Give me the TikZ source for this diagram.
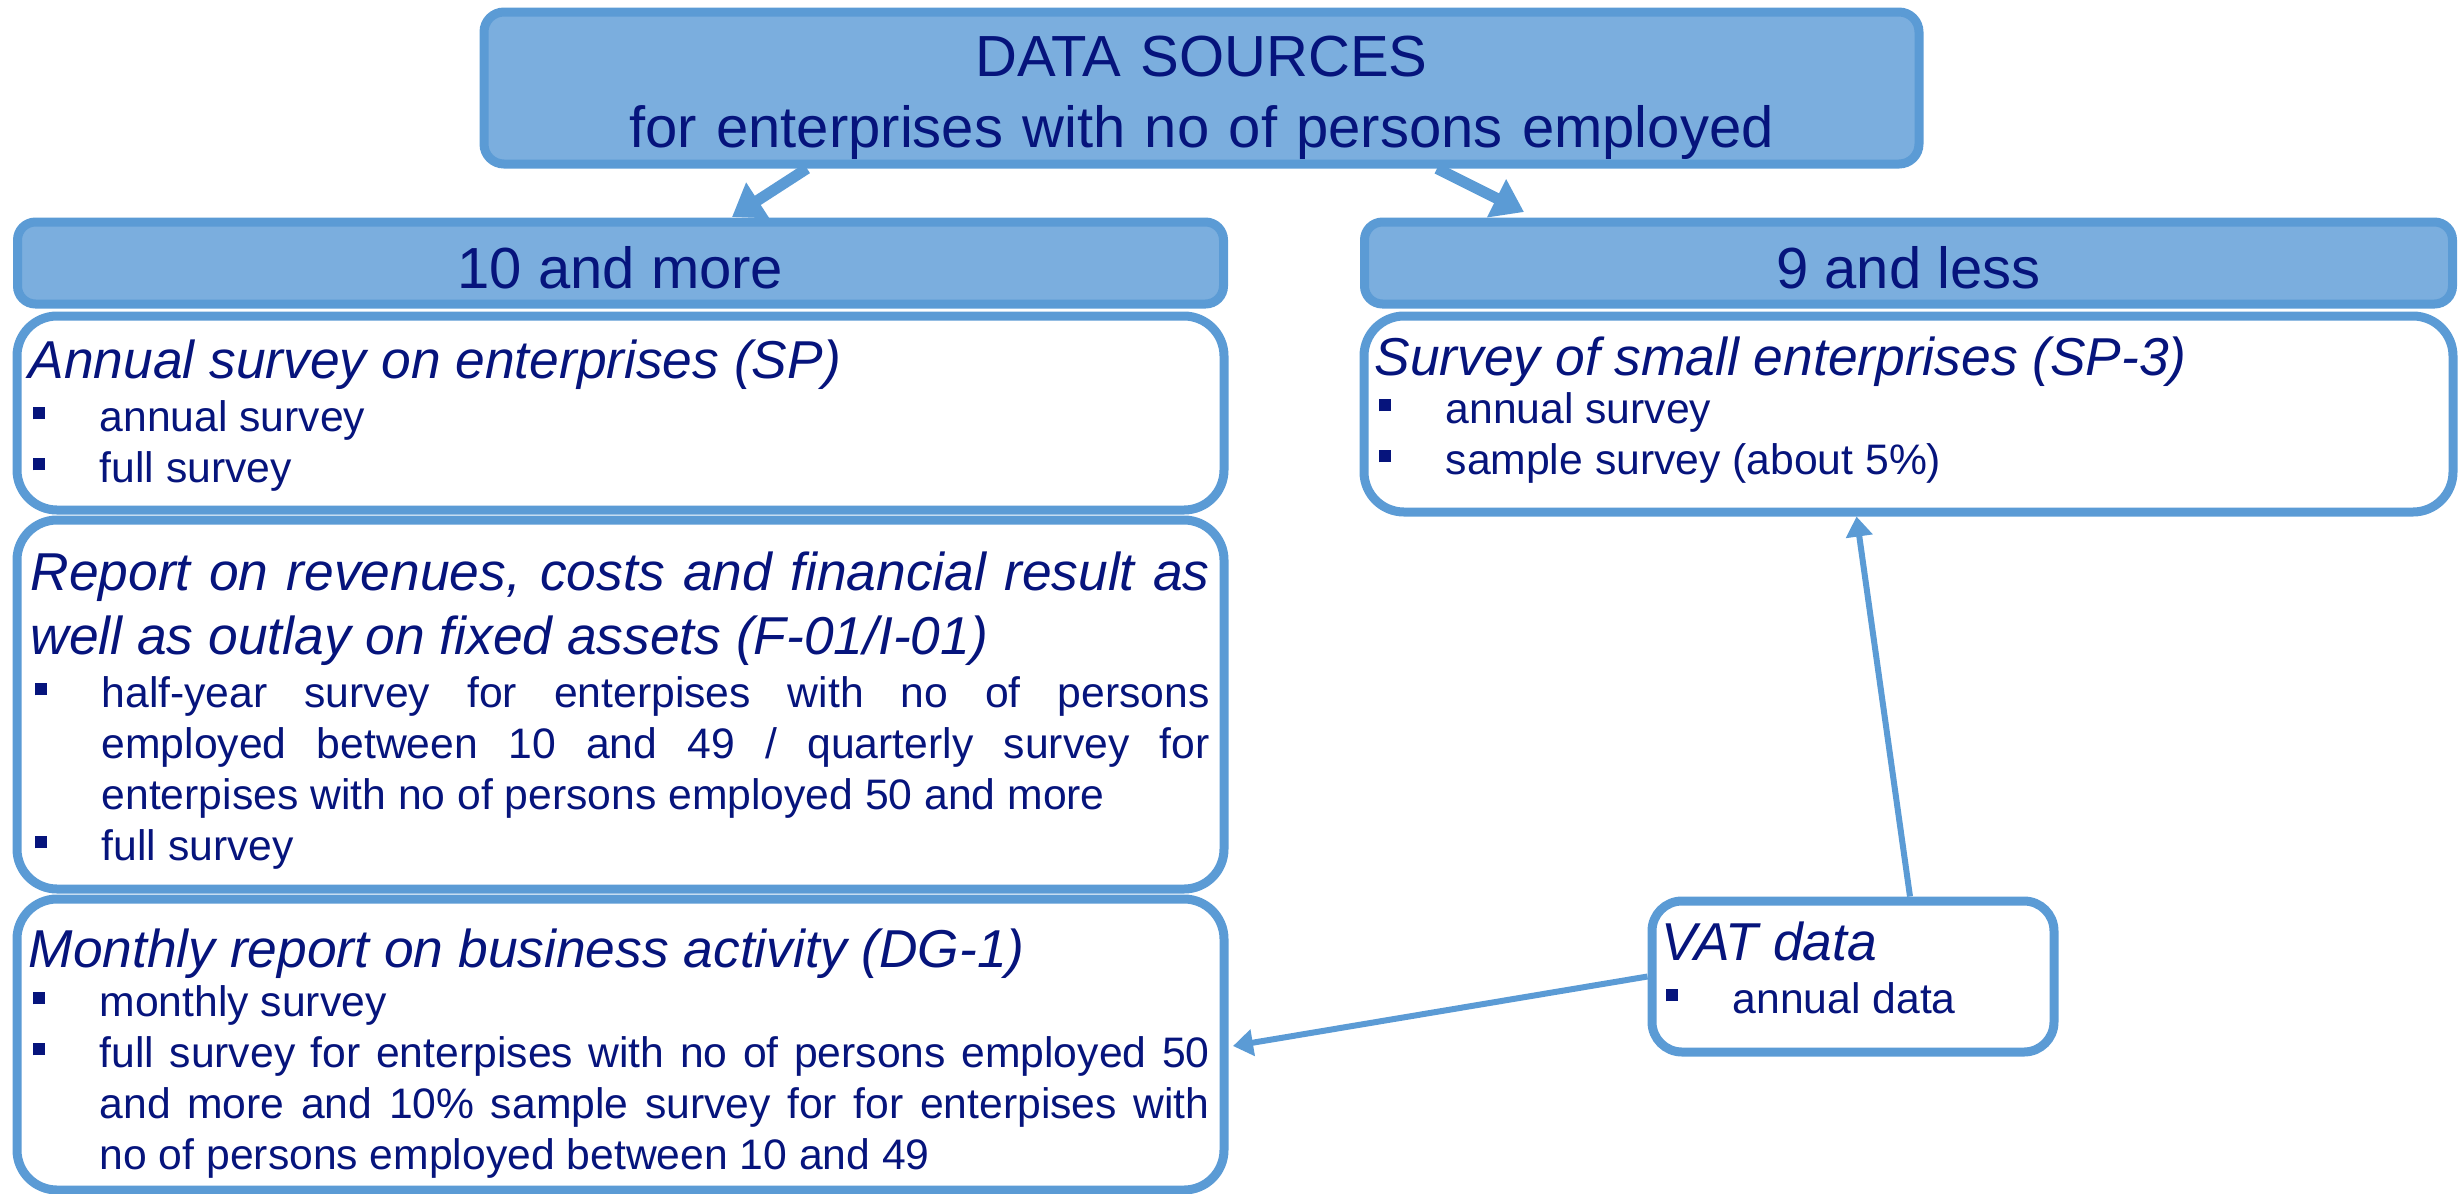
\documentclass[tikz,border=0pt]{standalone}
\usepackage{fontspec}
\setmainfont{Liberation Sans}
\usetikzlibrary{arrows.meta,calc,fit}
\definecolor{hdrfill}{HTML}{7BAEDE}
\definecolor{edgeblue}{HTML}{5B9BD5}
\definecolor{navy}{HTML}{06147C}
\newlength\bind
\setlength\bind{21.3pt}
\newcommand\bitem[1]{\par\hangindent=\bind\hangafter=1\noindent\makebox[\bind][l]{\hspace{1.2pt}\rule[3.5pt]{3.6pt}{3.6pt}}#1}
\newcommand\hfont{\fontsize{16pt}{19.2pt}\selectfont\itshape}
\newcommand\bfont{\fontsize{12.8pt}{15.3pt}\selectfont}
\begin{document}
\begin{tikzpicture}[x=0.3pt,y=-0.3pt,
  hdr/.style={draw=edgeblue,fill=hdrfill,line width=2.7pt,rounded corners=5.4pt,inner sep=0pt},
  srcbox/.style={draw=edgeblue,fill=hdrfill,line width=2.7pt,rounded corners=6pt,inner sep=0pt},
  wbox/.style={draw=edgeblue,fill=white,line width=2.7pt,rounded corners=12pt,inner sep=0pt},
  vatbox/.style={draw=edgeblue,fill=white,line width=2.7pt,rounded corners=9pt,inner sep=0pt},
  txt/.style={text=navy,inner sep=0pt,anchor=base west,align=justify,
    execute at begin node={\tolerance=10000\hyphenpenalty=10000}},
  bigtxt/.style={text=navy,inner sep=0pt,anchor=base,font=\fontsize{17.4pt}{21.3pt}\selectfont},
  bigarrow/.style={draw=edgeblue,line width=3.3pt,-{Triangle[length=9.2pt,width=12.2pt]}},
  thinarrow/.style={draw=edgeblue,line width=1.8pt,-{Triangle[length=6pt,width=7.8pt]}},
]
\useasboundingbox (0,0) rectangle (2463,1193);

% boxes
\node[srcbox, fit={(484,12) (1919,164)}] (src) {};
\node[hdr, fit={(17.5,222) (1223.5,304)}] (h10) {};
\node[hdr, fit={(1364.5,222) (2452.5,304)}] (h9) {};
\node[wbox, fit={(17,316) (1224,510)}] (sp) {};
\node[wbox, fit={(17,520) (1224,889)}] (f01) {};
\node[wbox, fit={(17,899) (1224,1190)}] (dg1) {};
\node[wbox, fit={(1364,316) (2453,512)}] (sp3) {};
\node[vatbox, fit={(1652,901) (2054,1052)}] (vat) {};

% texts
\node[bigtxt, text width=420pt, align=center] (srctxt) at (1201.5,76) {DATA SOURCES\\for enterprises with no of persons employed};
\node[bigtxt] (h10txt) at (620.5,288) {10 and more};
\node[bigtxt] (h9txt) at (1908.5,288) {9 and less};

\node[txt, text width=354.3pt] (sptxt) at (28,378) {{\hfont Annual survey on enterprises (SP)\par}\bfont\vspace{0.6pt}\bitem{annual survey}\bitem{full survey}\par};

\node[txt, text width=353.7pt] (f01txt) at (30,590) {{\hfont Report on revenues, costs and financial result as\linebreak well as outlay on fixed assets (F-01/I-01)\par}\bfont\vspace{0.6pt}\bitem{half-year survey for enterpises with no of persons\linebreak employed between 10 and 49 / quarterly survey for\linebreak enterpises with no of persons employed 50 and more}\bitem{full survey}\par};

\node[txt, text width=354.3pt] (dg1txt) at (28,967) {{\hfont Monthly report on business activity (DG-1)\par}\bfont\vspace{-0.6pt}\bitem{monthly survey}\bitem{full survey for enterpises with no of persons employed 50\linebreak and more and 10\% sample survey for for enterpises with\linebreak no of persons employed between 10 and 49}\par};

\node[txt, text width=315pt] (sp3txt) at (1374,375) {{\hfont Survey of small enterprises (SP-3)\par}\bfont\vspace{-0.9pt}\bitem{annual survey}\bitem{sample survey (about 5\%)}\par};

\node[txt, text width=114pt] (vattxt) at (1661,960) {{\hfont VAT data\par}\bfont\vspace{0.6pt}\bitem{annual data}\par};

% connectors
\draw[bigarrow] ($(src.south)+(-394.5,0)$) -- ($(h10.north)+(111.5,-0.5)$);
\draw[bigarrow] ($(src.south)+(235.5,0)$) -- ($(h9.north)+(-384.5,-5.5)$);
\draw[thinarrow] ($(vat.north)+(57,0)$) -- ($(sp3.south)+(-52,0)$);
\draw[thinarrow] (vat.west) -- ($(dg1.east)+(4.5,1.5)$);
\end{tikzpicture}
\end{document}
